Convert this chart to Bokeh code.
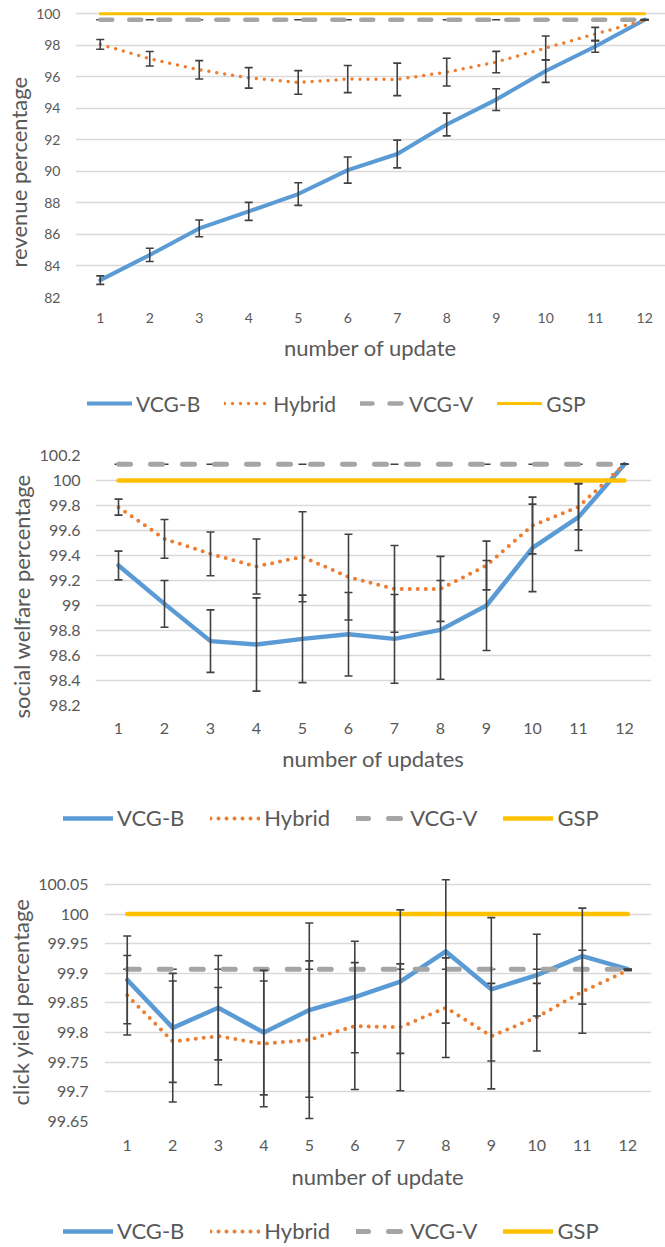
from bokeh.plotting import figure
from bokeh.models import (ColumnDataSource, Range1d, FixedTicker, Whisker, TeeHead,
                          Legend, LegendItem, Title)
from bokeh.embed import file_html
from bokeh.resources import INLINE

# ---------------- data ----------------
updates = [1, 2, 3, 4, 5, 6, 7, 8, 9, 10, 11, 12]
series_names = ["VCG-B", "Hybrid", "VCG-V", "GSP"]

# panel 1: revenue
rev_vcgb = [83.1, 84.7, 86.38, 87.46, 88.56, 90.08, 91.1, 92.97, 94.55, 96.36, 97.92, 99.62]
rev_vcgb_err = [0.27, 0.42, 0.53, 0.57, 0.72, 0.83, 0.88, 0.72, 0.69, 0.72, 0.37, 0.0]
rev_hybrid = [98.05, 97.14, 96.44, 95.93, 95.64, 95.85, 95.83, 96.29, 96.93, 97.82, 98.71, 99.58]
rev_hybrid_err = [0.31, 0.46, 0.58, 0.65, 0.75, 0.86, 1.03, 0.88, 0.68, 0.76, 0.42, 0.0]
rev_vcgv = [99.62, 99.62, 99.62, 99.62, 99.62, 99.62, 99.62, 99.62, 99.62, 99.62, 99.62, 99.62]
rev_gsp = [100, 100, 100, 100, 100, 100, 100, 100, 100, 100, 100, 100]
rev_ticks = [82, 84, 86, 88, 90, 92, 94, 96, 98, 100]
rev_labels = ["82", "84", "86", "88", "90", "92", "94", "96", "98", "100"]

# panel 2: social welfare
sw_vcgb = [99.32, 99.013, 98.715, 98.688, 98.733, 98.77, 98.733, 98.805, 99.0, 99.461, 99.707, 100.13]
sw_vcgb_err = [0.115, 0.187, 0.25, 0.373, 0.35, 0.334, 0.355, 0.395, 0.36, 0.35, 0.267, 0.0]
sw_hybrid = [99.787, 99.533, 99.413, 99.312, 99.39, 99.227, 99.133, 99.133, 99.32, 99.64, 99.79, 100.13]
sw_hybrid_err = [0.064, 0.155, 0.175, 0.22, 0.36, 0.343, 0.347, 0.26, 0.195, 0.227, 0.185, 0.0]
sw_vcgv = [100.13, 100.13, 100.13, 100.13, 100.13, 100.13, 100.13, 100.13, 100.13, 100.13, 100.13, 100.13]
sw_gsp = [100, 100, 100, 100, 100, 100, 100, 100, 100, 100, 100, 100]
sw_ticks = [98.2, 98.4, 98.6, 98.8, 99.0, 99.2, 99.4, 99.6, 99.8, 100.0, 100.2]
sw_labels = ["98.2", "98.4", "98.6", "98.8", "99", "99.2", "99.4", "99.6", "99.8", "100", "100.2"]

# panel 3: click yield
cy_vcgb = [99.889, 99.808, 99.842, 99.8, 99.838, 99.86, 99.886, 99.937, 99.873, 99.897, 99.929, 99.907]
cy_vcgb_err = [0.074, 0.092, 0.088, 0.105, 0.147, 0.094, 0.121, 0.121, 0.121, 0.069, 0.081, 0.0]
cy_hybrid = [99.863, 99.785, 99.794, 99.781, 99.788, 99.811, 99.809, 99.842, 99.794, 99.826, 99.869, 99.905]
cy_hybrid_err = [0.067, 0.102, 0.082, 0.106, 0.133, 0.107, 0.107, 0.084, 0.089, 0.057, 0.07, 0.0]
cy_vcgv = [99.907, 99.907, 99.907, 99.907, 99.907, 99.907, 99.907, 99.907, 99.907, 99.907, 99.907, 99.907]
cy_gsp = [100, 100, 100, 100, 100, 100, 100, 100, 100, 100, 100, 100]
cy_ticks = [99.65, 99.7, 99.75, 99.8, 99.85, 99.9, 99.95, 100.0, 100.05]
cy_labels = ["99.65", "99.7", "99.75", "99.8", "99.85", "99.9", "99.95", "100", "100.05"]

# ---------------- style ----------------
BLUE = "#5B9BD5"
ORANGE = "#ED7D31"
GRAY = "#A5A5A5"
GOLD = "#FFC000"
ERR = "#404040"
TXT = "#595959"
GRID = "#D9D9D9"
FONT = "Lato"
W = 665
NAN = float("nan")


def line_styles(st):
    return [
        dict(line_color=BLUE, line_width=st["blue_w"], line_join="round", line_cap="round"),
        dict(line_color=ORANGE, line_width=st["dot_w"], line_dash="0 8", line_cap="round"),
        dict(line_color=GRAY, line_width=st["gray_w"], line_dash=st["gray_dash"], line_cap="round"),
        dict(line_color=GOLD, line_width=st["gold_w"], line_cap="round"),
    ]


def build(vcgb, vcgb_err, hyb, hyb_err, vcgv, gsp, ticks, labels, ytitle, xtitle,
          yr, xr, H, left, right, top, frame_h, st):
    p = figure(width=W, height=H, x_range=Range1d(*xr), y_range=Range1d(*yr),
               output_backend="svg", toolbar_location=None,
               min_border_left=left, min_border_right=right, min_border_top=top,
               min_border_bottom=H - top - frame_h)
    p.outline_line_color = None
    p.background_fill_color = "white"
    p.border_fill_color = "white"

    p.xgrid.visible = False
    p.yaxis.ticker = FixedTicker(ticks=ticks)
    p.yaxis.major_label_overrides = dict(zip(ticks, labels))
    p.xaxis.ticker = FixedTicker(ticks=updates)
    p.ygrid.grid_line_color = GRID
    p.ygrid.grid_line_width = 1.5

    for ax in (p.xaxis, p.yaxis):
        ax.axis_line_color = None
        ax.major_tick_line_color = None
        ax.minor_tick_line_color = None
        ax.major_tick_out = 0
        ax.major_tick_in = 0
        ax.major_label_text_font = FONT
        ax.major_label_text_color = TXT
        ax.axis_label_text_font = FONT
        ax.axis_label_text_font_style = "normal"
        ax.axis_label_text_color = TXT
        ax.axis_label_text_font_size = st["title_fs"]
    p.xaxis.major_label_text_font_size = st["tick_fs"]
    p.yaxis.major_label_text_font_size = st["tick_fs"]
    p.xaxis.axis_label = xtitle
    p.xaxis.major_label_standoff = st["x_std"]
    p.xaxis.axis_label_standoff = st["x_lab_std"]
    p.yaxis.major_label_standoff = st["y_std"]

    yt = Title(text=ytitle, align="left", offset=st["yt_off"], standoff=st["yt_std"],
               vertical_align="middle", text_font=FONT, text_font_size=st["title_fs"],
               text_font_style="normal", text_color=TXT)
    p.add_layout(yt, "left")

    src = ColumnDataSource(dict(
        x=updates, vcgb=vcgb, hyb=hyb, vcgv=vcgv, gsp=gsp,
        vb_up=[v + e for v, e in zip(vcgb, vcgb_err)],
        vb_lo=[v - e for v, e in zip(vcgb, vcgb_err)],
        hy_up=[v + e for v, e in zip(hyb, hyb_err)],
        hy_lo=[v - e for v, e in zip(hyb, hyb_err)],
    ))
    ls = line_styles(st)
    p.line("x", "vcgb", source=src, **ls[0])
    p.line("x", "hyb", source=src, **ls[1])
    p.scatter("x", "vcgv", source=src, marker="dash", size=8, line_color=ERR,
              line_width=1.5)
    p.line("x", "vcgv", source=src, **ls[2])
    p.line("x", "gsp", source=src, **ls[3])

    for up, lo in (("vb_up", "vb_lo"), ("hy_up", "hy_lo")):
        w = Whisker(base="x", upper=up, lower=lo, source=src, dimension="height",
                    line_color=ERR, line_width=1.6, level="overlay",
                    upper_head=TeeHead(size=8, line_color=ERR, line_width=1.6),
                    lower_head=TeeHead(size=8, line_color=ERR, line_width=1.6))
        p.add_layout(w)
    return p


def build_legend(H, st):
    q = figure(width=W, height=H, x_range=Range1d(0, 1), y_range=Range1d(0, 1),
               output_backend="svg", toolbar_location=None,
               x_axis_type=None, y_axis_type=None, min_border=0)
    q.outline_line_color = None
    q.grid.visible = False
    q.background_fill_color = "white"
    q.border_fill_color = "white"
    rs = [q.line(x=[NAN, NAN], y=[NAN, NAN], **s) for s in line_styles(st)]
    items = [LegendItem(label=n, renderers=[r]) for n, r in zip(series_names, rs)]
    leg = Legend(items=items, orientation="horizontal", location=st["leg_loc"],
                 padding=0, margin=0, spacing=st["leg_sp"], glyph_width=st["leg_gw"],
                 glyph_height=26, label_height=26, label_standoff=4,
                 label_text_font=FONT, label_text_font_size=st["leg_fs"],
                 label_text_color=TXT, label_text_baseline="middle",
                 border_line_color=None, background_fill_alpha=0)
    q.add_layout(leg)
    return q


st1 = dict(title_fs="22px", tick_fs="14px", x_std=15, x_lab_std=8, y_std=15,
           yt_off=30, yt_std=1,
           blue_w=4, dot_w=3.5, gray_w=4.5, gray_dash="12 17", gold_w=3,
           leg_loc=(87, 24), leg_sp=24, leg_gw=45, leg_fs="21px")
st2 = dict(title_fs="22px", tick_fs="16px", x_std=17, x_lab_std=8, y_std=15,
           yt_off=-13, yt_std=2,
           blue_w=4.5, dot_w=4, gray_w=5, gray_dash="12 20", gold_w=4.5,
           leg_loc=(63, 19), leg_sp=26, leg_gw=50, leg_fs="22px")
st3 = dict(title_fs="22px", tick_fs="16px", x_std=18, x_lab_std=9, y_std=16,
           yt_off=16, yt_std=2,
           blue_w=4.5, dot_w=4, gray_w=5, gray_dash="12 20", gold_w=4.5,
           leg_loc=(63, 2), leg_sp=26, leg_gw=50, leg_fs="22px")

p1 = build(rev_vcgb, rev_vcgb_err, rev_hybrid, rev_hybrid_err, rev_vcgv, rev_gsp,
           rev_ticks, rev_labels, "revenue percentage", "number of update",
           yr=(82, 100.2), xr=(0.5, 12.42), H=380, left=75, right=0, top=10,
           frame_h=287, st=st1)
l1 = build_legend(60, st1)
p2 = build(sw_vcgb, sw_vcgb_err, sw_hybrid, sw_hybrid_err, sw_vcgv, sw_gsp,
           sw_ticks, sw_labels, "social welfare percentage", "number of updates",
           yr=(98.2, 100.2), xr=(0.5, 12.587), H=350, left=95, right=14, top=15,
           frame_h=250, st=st2)
l2 = build_legend(60, st2)
p3 = build(cy_vcgb, cy_vcgb_err, cy_hybrid, cy_hybrid_err, cy_vcgv, cy_gsp,
           cy_ticks, cy_labels, "click yield percentage", "number of update",
           yr=(99.65, 100.06), xr=(0.5, 12.52), H=350, left=104, right=14, top=28,
           frame_h=243, st=st3)
l3 = build_legend(46, st3)

open("out.html", "w").write(file_html([p1, l1, p2, l2, p3, l3], INLINE))
